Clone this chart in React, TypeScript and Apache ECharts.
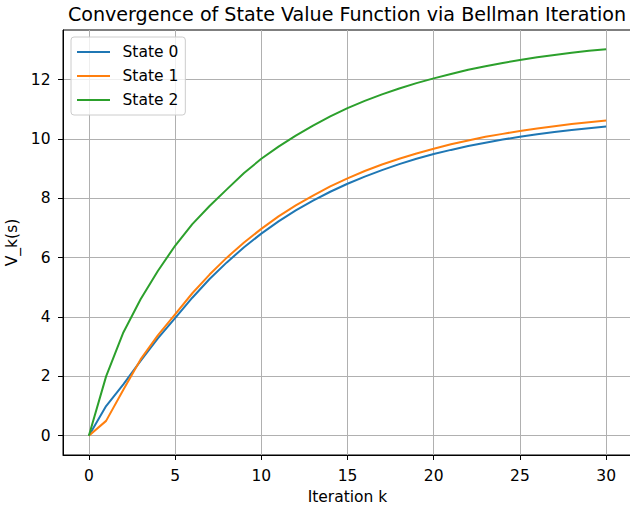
import React, { useEffect, useRef } from "react";
import * as echarts from "echarts";

// Bellman iteration index k
const iterations = [
  0, 1, 2, 3, 4, 5, 6, 7, 8, 9, 10, 11, 12, 13, 14, 15, 16, 17, 18, 19, 20,
  21, 22, 23, 24, 25, 26, 27, 28, 29, 30,
];

// V_k(s) for each state
const state0 = [
  0.0, 1.0, 1.73, 2.52, 3.28, 3.96, 4.65, 5.28, 5.84, 6.35, 6.81, 7.22, 7.59,
  7.92, 8.22, 8.49, 8.73, 8.95, 9.15, 9.33, 9.49, 9.63, 9.76, 9.87, 9.98,
  10.07, 10.16, 10.23, 10.3, 10.36, 10.42,
];
const state1 = [
  0.0, 0.5, 1.55, 2.57, 3.38, 4.09, 4.8, 5.43, 6.0, 6.51, 6.97, 7.39, 7.76,
  8.09, 8.4, 8.67, 8.92, 9.14, 9.33, 9.51, 9.67, 9.82, 9.95, 10.07, 10.17,
  10.27, 10.35, 10.43, 10.5, 10.56, 10.62,
];
const state2 = [
  0.0, 2.0, 3.48, 4.6, 5.55, 6.4, 7.13, 7.74, 8.3, 8.85, 9.33, 9.74, 10.11,
  10.45, 10.76, 11.04, 11.28, 11.5, 11.7, 11.88, 12.04, 12.19, 12.33, 12.45,
  12.56, 12.66, 12.75, 12.83, 12.9, 12.97, 13.02,
];

const seriesNames = ["State 0", "State 1", "State 2"];
const xTicks = [0, 5, 10, 15, 20, 25, 30];
const yTicks = [0, 2, 4, 6, 8, 10, 12];

const FONT = "DejaVu Sans";
const COLORS = ["#1f77b4", "#ff7f0e", "#2ca02c"];
const LABEL_SIZE = 15.5;
const TITLE_SIZE = 19.1;

export default function App() {
  const ref = useRef<HTMLDivElement>(null);

  useEffect(() => {
    if (!ref.current) return;
    const chart = echarts.init(ref.current, null, { renderer: "svg" });
    const values = [state0, state1, state2];

    const axisCommon = {
      type: "value" as const,
      nameLocation: "middle" as const,
      nameTextStyle: { fontFamily: FONT, fontSize: LABEL_SIZE, color: "#000" },
      axisLine: { show: true, onZero: false, lineStyle: { color: "#000", width: 1 } },
      splitLine: { show: true, lineStyle: { color: "#b0b0b0", width: 1 } },
    };

    chart.setOption({
      animation: false,
      backgroundColor: "#ffffff",
      textStyle: { fontFamily: FONT },
      color: COLORS,
      graphic: [
        {
          type: "text",
          x: 347,
          y: 14,
          style: {
            text: "Convergence of State Value Function via Bellman Iteration",
            fontFamily: FONT,
            fontSize: TITLE_SIZE,
            fill: "#000",
            textAlign: "center",
            textVerticalAlign: "middle",
          },
        },
      ],
      grid: {
        left: 63,
        top: 30,
        width: 569,
        height: 425,
        containLabel: false,
        outerBoundsMode: "none",
        show: true,
        borderColor: "#000",
        borderWidth: 1,
        backgroundColor: "transparent",
      },
      xAxis: {
        ...axisCommon,
        min: -1.5,
        max: 31.5,
        name: "Iteration k",
        nameGap: 33,
        axisTick: { show: true, length: 5, customValues: xTicks, lineStyle: { color: "#000" } },
        axisLabel: { customValues: xTicks, margin: 13, color: "#000", fontSize: LABEL_SIZE, fontFamily: FONT },
      },
      yAxis: {
        ...axisCommon,
        min: -0.65,
        max: 13.67,
        name: "V_k(s)",
        nameGap: 39,
        nameRotate: 90,
        axisTick: { show: true, length: 5, customValues: yTicks, lineStyle: { color: "#000" } },
        axisLabel: { customValues: yTicks, margin: 12.5, color: "#000", fontSize: LABEL_SIZE, fontFamily: FONT },
      },
      legend: {
        orient: "vertical",
        left: 71,
        top: 37,
        itemWidth: 33,
        itemHeight: 2,
        itemGap: 6,
        padding: [6, 7, 6, 6],
        backgroundColor: "rgba(255,255,255,0.8)",
        borderColor: "#cccccc",
        borderWidth: 1,
        borderRadius: 3,
        textStyle: {
          fontSize: LABEL_SIZE,
          color: "#000",
          fontFamily: FONT,
          padding: [0, 0, 0, 7.5],
          lineHeight: 18,
        },
        data: seriesNames.map((n) => ({ name: n, icon: "rect" })),
      },
      series: seriesNames.map((name, i) => ({
        name,
        type: "line",
        showSymbol: false,
        symbol: "none",
        lineStyle: { width: 2, color: COLORS[i] },
        itemStyle: { color: COLORS[i] },
        data: iterations.map((k, j) => [k, values[i][j]]),
      })),
    });

    return () => chart.dispose();
  }, []);

  return (
    <div
      ref={ref}
      style={{ position: "absolute", left: 0, top: 0, width: 630, height: 510 }}
    />
  );
}
